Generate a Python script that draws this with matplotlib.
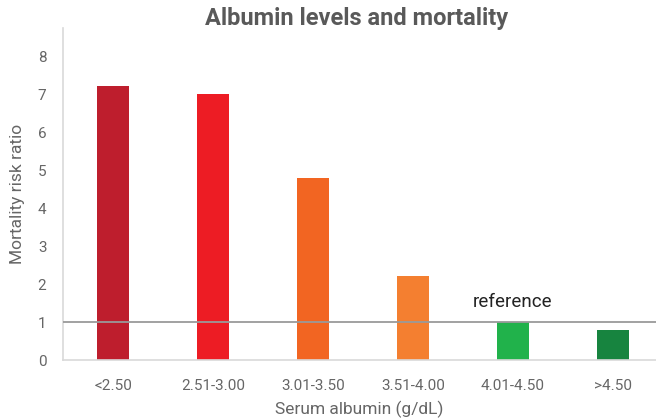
import matplotlib
matplotlib.use("Agg")
import matplotlib.pyplot as plt

categories = ["<2.50", "2.51-3.00", "3.01-3.50", "3.51-4.00", "4.01-4.50", ">4.50"]
risk_ratio = [7.2, 7.0, 4.8, 2.2, 1.0, 0.8]
bar_colors = ["#BE1E2D", "#ED1C24", "#F26522", "#F47F30", "#21B24B", "#17843F"]
y_ticks = [0, 1, 2, 3, 4, 5, 6, 7, 8]
reference_level = 1.0

plt.rcParams["font.family"] = ["Roboto", "DejaVu Sans"]

fig = plt.figure(figsize=(6.56, 4.19), dpi=100)
ax = fig.add_axes([63 / 656, 1 - 360 / 419, 1 - 63 / 656, (360 - 28) / 419])

x = range(len(categories))
ax.bar(x, risk_ratio, width=0.32, color=bar_colors, zorder=2)
ax.axhline(reference_level, color="#9A9A9A", linewidth=1.3, zorder=3)
ax.text(4.0, reference_level + 0.3, "reference", ha="center", va="bottom",
        fontsize=13.5, color="#222222")

ax.set_xlim(-0.5, 5.43)
ax.set_ylim(0, 8.74)
ax.set_xticks(list(x))
ax.set_xticklabels(categories)
ax.set_yticks(y_ticks)

for side in ["top", "right"]:
    ax.spines[side].set_visible(False)
for side in ["left", "bottom"]:
    ax.spines[side].set_color("#D9D9D9")
    ax.spines[side].set_linewidth(1.2)

ax.tick_params(axis="both", length=0, labelsize=11, labelcolor="#666666")
ax.tick_params(axis="x", pad=14)
ax.tick_params(axis="y", pad=12)

ax.set_xlabel("Serum albumin (g/dL)", fontsize=12.5, color="#666666", labelpad=5)
ax.set_ylabel("Mortality risk ratio", fontsize=12.5, color="#666666", labelpad=9)
fig.text(0.543, 0.957, "Albumin levels and mortality", ha="center", va="center",
         fontsize=17, fontweight="bold", color="#595959")

fig.savefig("out.png", dpi=100)
